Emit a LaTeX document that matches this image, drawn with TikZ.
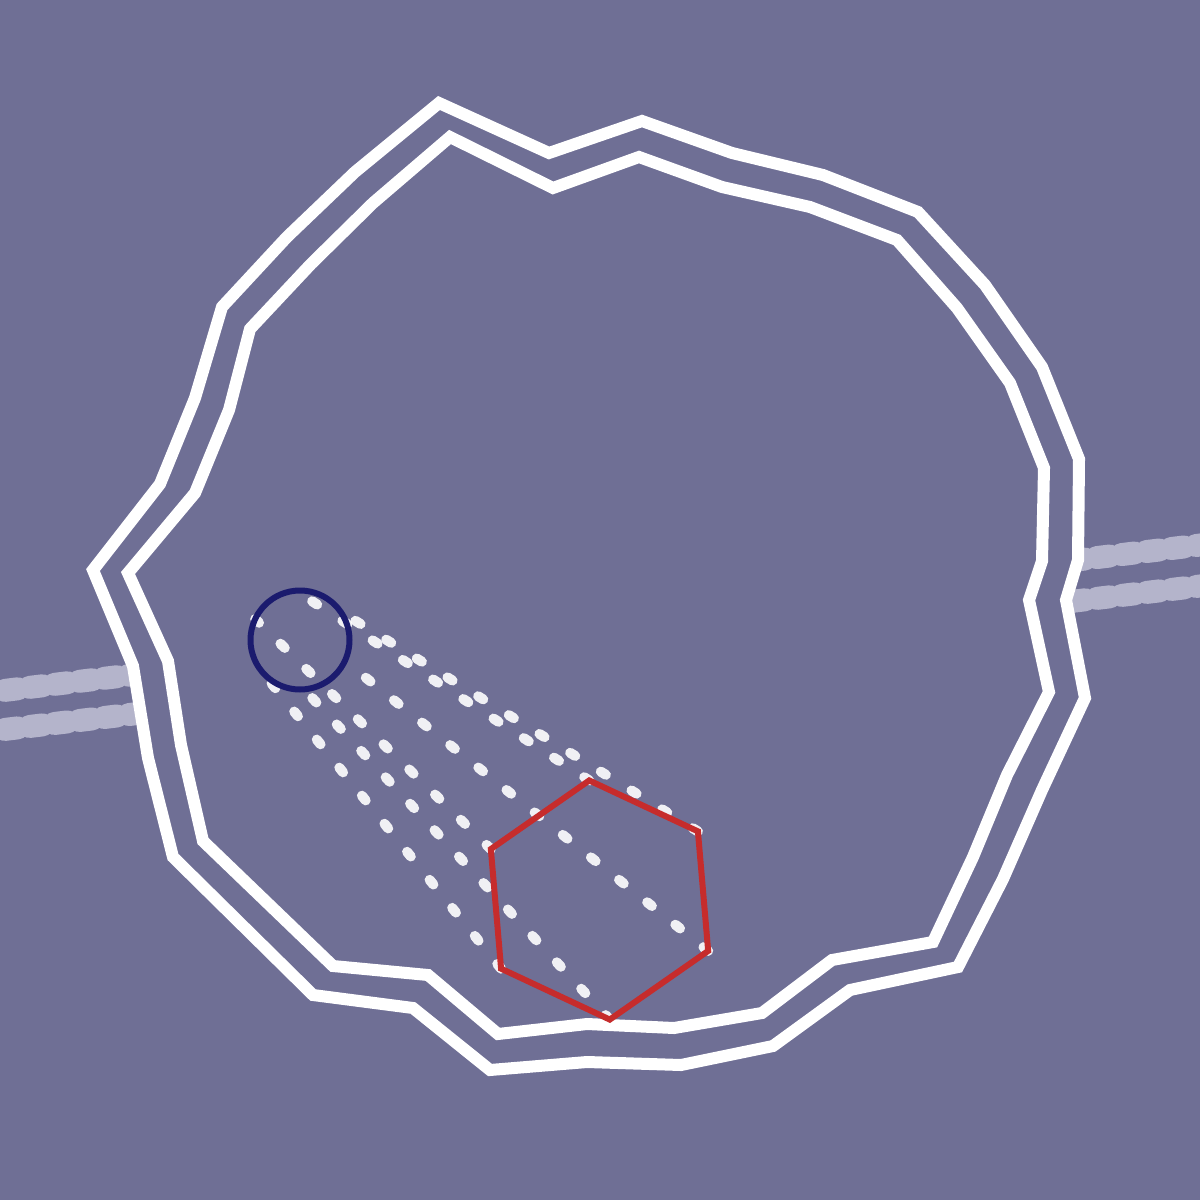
\documentclass[tikz,border=0pt]{standalone}
\usetikzlibrary{calc}
\definecolor{cbg}{HTML}{6F6F95}
\definecolor{croad}{HTML}{B4B4CB}
\definecolor{cnavy}{HTML}{1B1B6E}
\definecolor{cred}{HTML}{C62C2C}
\tikzset{
  every picture/.style={x=0.1mm, y=-0.1mm},
  road/.style={draw=croad, line width=2.3mm, line cap=round, dash pattern=on 1.3mm off 1.2mm},
  wall/.style={draw=white, line width=1.2mm, line join=miter},
  ray/.style={draw=white, draw opacity=0.9, line width=1mm, line cap=round, dash pattern=on 0.6mm off 3mm},
  ring/.style={draw=cnavy, line width=0.6mm},
  hexa/.style={draw=cred, line width=0.6mm, line join=miter},
}

\begin{document}
\begin{tikzpicture}
  \fill[cbg] (0,0) rectangle (1200,1200);
  \useasboundingbox (0,0) rectangle (1200,1200);
  % road under the walls
  \coordinate (ra) at (-20,693.4); \coordinate (rb) at (1220,542.6);
  \coordinate (rc) at (-20,732.4); \coordinate (rd) at (1220,583.6);
  \draw[road] (ra) -- (rb);
  \draw[road] (rc) -- (rd);
  % double wall
  \draw[wall, fill=cbg] (439,103) -- (549,153) -- (642,121) -- (732,153) -- (823,175) -- (918,212)
    -- (985,285) -- (1042,367) -- (1079,459) -- (1078,560) -- (1066,600) -- (1085,698) -- (1042,790)
    -- (1003,879) -- (958,967) -- (850,990) -- (773,1046) -- (681,1065) -- (587,1062) -- (490,1070)
    -- (413,1008) -- (313,995) -- (173,857) -- (148,758) -- (133,666) -- (93,570) -- (160,484)
    -- (195,398) -- (222,307) -- (287,237) -- (355,172) -- cycle;
  \draw[wall] (450,137) -- (553,188) -- (639,157) -- (722,187) -- (810,207) -- (897,240)
    -- (957,308) -- (1010,383) -- (1044,468) -- (1042,561) -- (1029,600) -- (1049,692) -- (1007,775)
    -- (973,857) -- (933,942) -- (832,960) -- (762,1013) -- (674,1028) -- (587,1024) -- (498,1034)
    -- (428,975) -- (333,966) -- (203,841) -- (181,745) -- (168,661) -- (128,573) -- (195,493)
    -- (229,410) -- (250,329) -- (311,264) -- (373,203) -- cycle;
  % hexagon and ball
  \coordinate (hc) at (599.5,900);
  \coordinate (cc) at (300,640);
  \foreach \k in {0,...,5} {
    \pgfmathsetmacro\ang{-94.9+60*\k}
    \coordinate (h\k) at ($(hc)+(\ang:120)$);
    \coordinate (c\k) at ($(cc)+(\ang:49.5)$);
  }
  \foreach \k in {0,...,5} \draw[ray] (h\k) -- (c\k);
  \draw[ring] (cc) circle[radius=4.95mm];
  \draw[hexa] (h0) -- (h1) -- (h2) -- (h3) -- (h4) -- (h5) -- cycle;
\end{tikzpicture}
\end{document}
